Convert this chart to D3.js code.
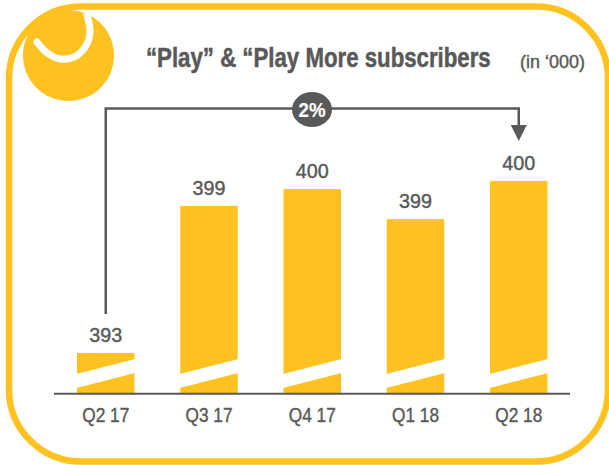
<!DOCTYPE html>
<html><head><meta charset="utf-8">
<script src="https://cdn.jsdelivr.net/npm/d3@7"></script>
<style>html,body{margin:0;padding:0;background:#fff}svg{display:block}</style>
</head><body><svg id="c" width="609" height="465"></svg>
<script>
const categories = ["Q2 17","Q3 17","Q4 17","Q1 18","Q2 18"];
const valueLabels = ["393","399","400","399","400"];
const plottedValues = [393.0,399.13,399.83,398.58,400.17];
const titleText = "“Play” & “Play More subscribers";
const unitText = "(in ‘000)";
const growthText = "2%";
const YEL="#ffc220", GR="#595959", FONT="'Liberation Sans',sans-serif";
const svg=d3.select("#c");
const x=d3.scaleBand().domain(categories).range([77,547.5]).paddingInner(0.443).paddingOuter(0);
const y=d3.scaleLinear().domain([391.33,393,400]).range([393,353,185]);
svg.append("rect").attr("x",9).attr("y",6.5).attr("width",599).attr("height",455).attr("rx",72).attr("fill","none").attr("stroke",YEL).attr("stroke-width",6.5);
svg.append("circle").attr("cx",68.5).attr("cy",55.5).attr("r",45.5).attr("fill",YEL);
svg.append("path").attr("d",d3.line().curve(d3.curveCatmullRom)([[37,42],[46,52],[60,59],[76,56],[87,44],[90,30],[87,15]])).attr("fill","none").attr("stroke","#fff").attr("stroke-width",7).attr("stroke-linecap","round");
svg.selectAll(".bar").data(categories).join("rect").attr("x",d=>x(d)).attr("width",x.bandwidth()).attr("y",(d,i)=>y(plottedValues[i])).attr("height",(d,i)=>393-y(plottedValues[i])).attr("fill",YEL);
svg.selectAll(".brk").data(categories).join("path").attr("fill","#fff").attr("d",d=>{const a=x(d)-0.5,b=x(d)+x.bandwidth()+0.5;return d3.line()([[a,374],[b,359],[b,373],[a,388]])+"Z";});
svg.append("line").attr("x1",54).attr("x2",570).attr("y1",393.7).attr("y2",393.7).attr("stroke",GR).attr("stroke-width",2);
// text squeezed horizontally to mimic the reference's condensed face
const t=(s,px,py,size,w,anchor,len,sw,col)=>{
  const el=svg.append("text").attr("font-family",FONT).attr("font-size",size).attr("font-weight",w).attr("fill",col||GR).attr("stroke",col||GR).attr("stroke-width",sw||0).text(s);
  const k=len/el.node().getComputedTextLength();
  const left=anchor==="start"?px:px-len/2;
  el.attr("transform",`translate(${left},${py}) scale(${k},1)`);
  return el;
};
categories.forEach((c,i)=>{const cx=x(c)+x.bandwidth()/2;t(c,cx,422,19.5,"normal","middle",47,0.4);t(valueLabels[i],cx,y(plottedValues[i])-11,19.5,"normal","middle",33,0.4);});
t(titleText,146,66.5,27,"bold","start",345,0.5);
t(unitText,520,67.5,18,"normal","start",65,0.4);
const ax=x(categories[0])+x.bandwidth()/2, bx=x(categories[4])+x.bandwidth()/2;
svg.append("path").attr("d",d3.line()([[ax,314],[ax,108.5],[bx,108.5],[bx,127]])).attr("fill","none").attr("stroke",GR).attr("stroke-width",2.5);
svg.append("path").attr("d",d3.line()([[bx-8,125],[bx+8,125],[bx,141]])+"Z").attr("fill",GR);
svg.append("ellipse").attr("cx",312).attr("cy",109.5).attr("rx",20).attr("ry",17.5).attr("fill",GR);
t(growthText,312,116.5,20,"bold","middle",27,0.2,"#fff");
</script></body></html>
